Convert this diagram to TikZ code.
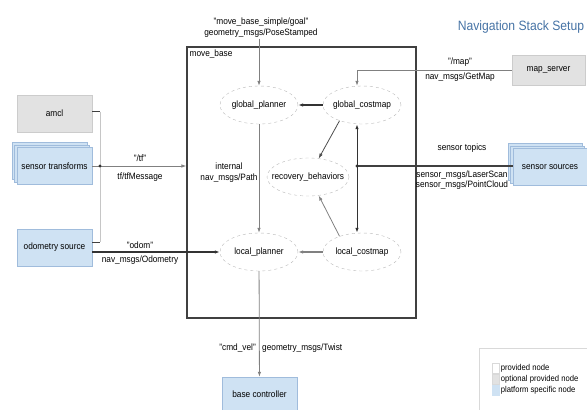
\documentclass[tikz,border=0pt]{standalone}
\usepackage{fontspec}
\setmainfont[FakeStretch=0.9]{Liberation Sans}
\usetikzlibrary{arrows.meta, shapes.geometric, shadows}
\definecolor{platblue}{RGB}{207,226,243}
\definecolor{platedge}{RGB}{160,188,220}
\definecolor{optgray}{RGB}{226,226,226}
\definecolor{titleblue}{RGB}{70,115,165}

\begin{document}
\begin{tikzpicture}[x=1pt, y=-1pt, font=\fontsize{9.2}{11}\selectfont,
    >={Latex[length=5pt,width=3.5pt]},
    msg/.style={->, draw=gray, line width=0.8pt},
    strong/.style={->, draw=black!80, line width=1.3pt},
    proc/.style={ellipse, draw=gray!55, dashed, minimum width=78pt, minimum height=38pt, inner sep=0pt},
    optbox/.style={rectangle, draw=gray!40, fill=optgray, minimum width=75pt, minimum height=37pt},
    platbox/.style={rectangle, draw=platedge, fill=platblue, minimum width=75pt, minimum height=37pt},
    stacked/.style={double copy shadow={shadow xshift=-2.5pt, shadow yshift=2.5pt}},
    lbl/.style={align=center, inner sep=1pt},
    keybox/.style={rectangle, draw=gray!30, minimum width=7pt, minimum height=10pt, inner sep=0pt}]
        \useasboundingbox (0,0) rectangle (587,410);
        % Title
        \node[text=titleblue, font=\fontsize{13.5}{15}\selectfont] (title) at (521,27) {Navigation Stack Setup};
        % move_base frame
        \node[draw=black!75, line width=1.1pt, minimum width=229pt, minimum height=271pt, inner sep=0pt] (movebase) at (301.5,182.5) {};
        \node[anchor=north west, inner sep=1pt] (mblbl) at ([xshift=2pt, yshift=-2pt]movebase.north west) {move\_base};
        % Ellipses inside move_base
        \node[proc, label=center:global\_planner] (gplanner) at (259,105) {};
        \node[proc, label=center:global\_costmap] (gcostmap) at (362,105) {};
        \node[proc, minimum width=82pt, label=center:recovery\_behaviors] (recovery) at (308,177) {};
        \node[proc, label=center:local\_planner] (lplanner) at (259,252) {};
        \node[proc, label=center:local\_costmap] (lcostmap) at (362,252) {};
        % Boxes outside
        \node[optbox] (amcl) at (54.5,113.5) {amcl};
        \node[platbox, stacked] (tfsrc) at (54.5,166) {sensor transforms};
        \node[platbox] (odom) at (54.5,247.5) {odometry source};
        \node[optbox, minimum width=73pt, minimum height=30pt] (mapsrv) at (548.5,70) {map\_server};
        \node[platbox, stacked, minimum width=74pt] (sensors) at (550,167) {sensor sources};
        \node[platbox, minimum height=34pt] (basectl) at (259.5,394) {base controller};
        % Goal
        \node[lbl] (goallbl) at (261,28) {"move\_base\_simple/goal"\\geometry\_msgs/PoseStamped};
        \draw[msg] (goallbl.south -| gplanner.north) -- (gplanner.north);
        % Arrows between the ellipses
        \draw[strong] (gcostmap) -- (gplanner);
        \draw[msg, draw=black!70] (gcostmap.215) -- (recovery.60);
        \draw[msg] (lcostmap.145) -- (recovery.-60);
        \draw[msg, line width=1.1pt] (lcostmap) -- (lplanner);
        \draw[msg] (gplanner) -- (lplanner);
        \node[lbl] (pathlbl) at (229,173) {internal\\nav\_msgs/Path};
        % cmd_vel
        \draw[msg] (lplanner) -- (basectl);
        \node[anchor=east, inner sep=1pt] (cmdlbl) at (257,348) {"cmd\_vel"};
        \node[anchor=west, inner sep=1pt] (twistlbl) at (261,348) {geometry\_msgs/Twist};
        % map
        \draw[msg] (mapsrv.west) -| ([xshift=-5pt]gcostmap.north);
        \node[lbl] (maptopic) at (460,62) {"/map"};
        \node[lbl] (maptype) at (460,77) {nav\_msgs/GetMap};
        % sensor topics
        \coordinate (sjoin) at (357,166);
        \draw[draw=black!75, line width=1.1pt] (sensors.west |- sjoin) -- (sjoin);
        \fill[black!80] (sjoin) circle (1.6pt);
        \draw[->, draw=black!80, line width=1pt] (sjoin) -- (sjoin |- gcostmap.south);
        \draw[->, draw=black!80, line width=1pt] (sjoin) -- (sjoin |- lcostmap.north);
        \node[lbl] (senstopic) at (462,148) {sensor topics};
        \node[lbl, font=\fontsize{9.2}{10}\selectfont] (senstype) at (462,180) {sensor\_msgs/LaserScan\\sensor\_msgs/PointCloud};
        % tf
        \coordinate (tfjoin) at (100,166);
        \coordinate (amclout) at ([yshift=2pt]amcl.east);
        \coordinate (odomout) at ([yshift=5.5pt]odom.east);
        \draw[draw=gray!45, line width=0.8pt] (amclout -| tfjoin) -- (odomout -| tfjoin);
        \draw[draw=black!75, line width=1pt] (amclout) -- (amclout -| tfjoin);
        \draw[draw=black!75, line width=1pt] (odomout) -- (odomout -| tfjoin);
        \draw[msg] (tfsrc.east) -- (tfsrc.east -| movebase.west);
        \fill[black!80] (tfjoin) circle (1.6pt);
        \node[lbl] (tftopic) at (140,158) {"/tf"};
        \node[lbl] (tftype) at (140,177) {tf/tfMessage};
        % odom
        \draw[strong] (odom.east |- lplanner) -- (lplanner);
        \node[lbl] (odomtopic) at (140,245) {"odom"};
        \node[lbl] (odomtype) at (140,260) {nav\_msgs/Odometry};
        % Legend
        \draw[draw=gray!30] (479,348) rectangle (600,420);
        \node[keybox, fill=white] (keyprov) at (496,368) {};
        \node[keybox, fill=optgray] (keyopt) at (496,379) {};
        \node[keybox, fill=platblue, draw=platblue] (keyplat) at (496,390) {};
        \node[anchor=west, inner sep=1pt, font=\fontsize{8.5}{9}\selectfont] (keyprovtxt) at (keyprov.east) {provided node};
        \node[anchor=west, inner sep=1pt, font=\fontsize{8.5}{9}\selectfont] (keyopttxt) at (keyopt.east) {optional provided node};
        \node[anchor=west, inner sep=1pt, font=\fontsize{8.5}{9}\selectfont] (keyplattxt) at (keyplat.east) {platform specific node};
\end{tikzpicture}
\end{document}
